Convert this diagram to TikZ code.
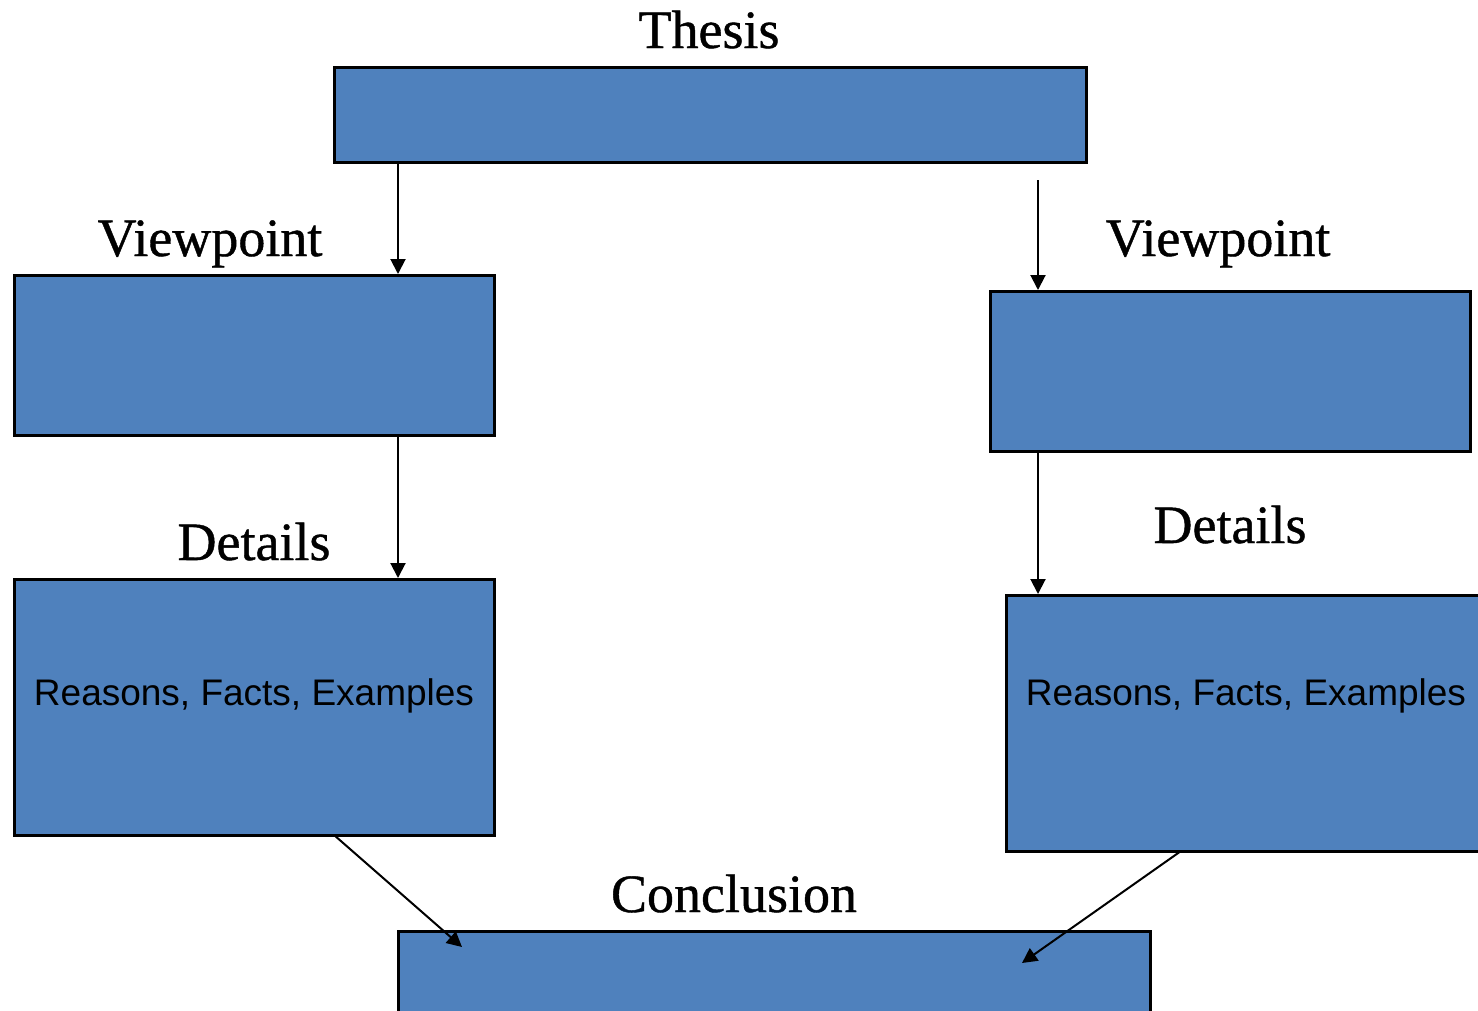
\documentclass[tikz,border=0pt]{standalone}
\usepackage{fontspec}
\setmainfont{Liberation Serif}
\newfontfamily\headfont[FakeBold=0.8]{Liberation Serif}
\newfontfamily\arialfont{Liberation Sans}
\usetikzlibrary{arrows.meta}
\definecolor{boxblue}{RGB}{79,129,189}
\tikzset{
  box/.style={draw=black, fill=boxblue, line width=2.6pt, rectangle, inner sep=0pt, anchor=north west},
  title/.style={anchor=base, inner sep=0pt, font=\headfont\fontsize{54}{62}\selectfont},
  body/.style={anchor=base, inner sep=0pt, font=\arialfont\fontsize{37}{44}\selectfont},
  conn/.style={line width=2pt, -{Triangle[length=15pt,width=15pt]}},
}
\begin{document}
\begin{tikzpicture}[x=1pt,y=-1pt]
\useasboundingbox (0,0) rectangle (1478,1010);
\clip (0,0) rectangle (1478,1010);
% boxes
\node[box, minimum width=752pt, minimum height=95pt] (thesis) at (333,66) {};
\node[box, minimum width=480pt, minimum height=160pt] (vl) at (13,274) {};
\node[box, minimum width=480pt, minimum height=160pt] (vr) at (989,290) {};
\node[box, minimum width=480pt, minimum height=256pt] (dl) at (13,578) {};
\node[box, minimum width=480pt, minimum height=256pt] (dr) at (1005,594) {};
\node[box, minimum width=752pt, minimum height=110pt] (concl) at (397,930) {};
% titles
\node[title] (tthesis) at (709,48) {Thesis};
\node[title] (tvl) at (210,256) {Viewpoint};
\node[title] (tvr) at (1218,256) {Viewpoint};
\node[title] (tdl) at (254,560) {Details};
\node[title] (tdr) at (1230,543) {Details};
\node[title] (tconcl) at (734,912) {Conclusion};
% body texts
\node[body] (bl) at (254,705) {Reasons, Facts, Examples};
\node[body] (br) at (1246,705) {Reasons, Facts, Examples};
% connector end points
\coordinate (a1s) at (398,162);
\coordinate (a2s) at (1038,180);
\coordinate (a3s) at (398,435);
\coordinate (a4s) at (1038,451);
\coordinate (a5s) at (334,835);
\coordinate (a5e) at (462,947);
\coordinate (a6s) at (1181,851);
\coordinate (a6e) at (1022,963);
% connectors
\draw[conn] (a1s) -- (a1s |- vl.north);
\draw[conn] (a2s) -- (a2s |- vr.north);
\draw[conn] (a3s) -- (a3s |- dl.north);
\draw[conn] (a4s) -- (a4s |- dr.north);
\draw[conn] (a5s) -- (a5e);
\draw[conn] (a6s) -- (a6e);
\end{tikzpicture}
\end{document}
